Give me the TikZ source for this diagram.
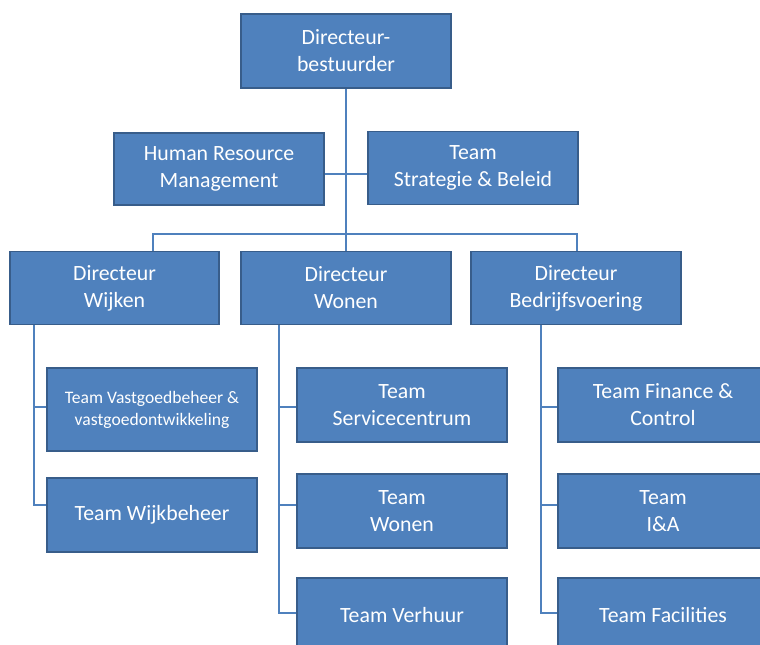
\documentclass[tikz,border=0pt]{standalone}
\usepackage{fontspec}
\setmainfont{Carlito}
\usepackage{tikz}
\definecolor{boxfill}{RGB}{79,129,189}
\definecolor{boxrand}{RGB}{56,93,138}
\definecolor{lijn}{RGB}{79,129,189}

\begin{document}
\begin{tikzpicture}[x=0.02cm, y=-0.02cm,
    blok/.style={draw=boxrand, fill=boxfill, line width=0.9pt, text=white, align=center,
        minimum width=4.2cm, minimum height=1.48cm, inner sep=0pt,
        font=\fontsize{12.4}{15.3}\selectfont},
    klein/.style={font=\fontsize{10}{12.6}\selectfont, minimum height=1.66cm},
    verbinding/.style={draw=lijn, line width=0.85pt}]
    \clip (0,0) rectangle (760,645);
    \useasboundingbox (0,0) rectangle (760,645);
    % Directie
    \node[blok] (dirbest) at (346,51) {Directeur-\\bestuurder};
    \node[blok, minimum height=1.44cm] (hrm) at (219,169) {Human Resource\\Management};
    \node[blok, minimum height=1.46cm] (strat) at (473,168) {Team\\Strategie \& Beleid};
    % Directeuren
    \node[blok, minimum width=4.18cm, minimum height=1.46cm] (dirwijk) at (114.5,288) {Directeur\\Wijken};
    \node[blok, minimum height=1.46cm] (dirwonen) at (346,288) {Directeur\\Wonen};
    \node[blok, minimum height=1.46cm] (dirbedr) at (576,288) {Directeur\\Bedrijfsvoering};
    % Teams Wijken
    \node[blok, klein] (vastgoed) at (152,409.5) {Team Vastgoedbeheer \&\\vastgoedontwikkeling};
    \node[blok] (wijkbeh) at (152,515) {Team Wijkbeheer};
    % Teams Wonen
    \node[blok] (service) at (402,405) {Team\\Servicecentrum};
    \node[blok] (twonen) at (402,511) {Team\\Wonen};
    \node[blok] (verhuur) at (402,615) {Team Verhuur};
    % Teams Bedrijfsvoering
    \node[blok] (finance) at (663,405) {Team Finance \&\\Control};
    \node[blok] (ia) at (663,511) {Team\\I\&A};
    \node[blok] (facil) at (663,615) {Team Facilities};
    % Hulppunten
    \coordinate (staf) at (346,174);
    \coordinate (wijkaf) at (153,251);
    \coordinate (bedraf) at (577,251);
    \coordinate (wk1) at (34,407);
    \coordinate (wk2) at (34,505);
    \coordinate (wo1) at (279,407);
    \coordinate (wo2) at (279,505);
    \coordinate (wo3) at (279,613);
    \coordinate (bv1) at (541,407);
    \coordinate (bv2) at (541,505);
    \coordinate (bv3) at (541,613);
    % Lijnen
    \draw[verbinding] (hrm.east |- staf) -- (strat.west |- staf);
    \draw[verbinding] (dirbest) -- (dirwonen);
    \draw[verbinding] (wijkaf) -- ++(0,-17) -| (bedraf);
    \draw[verbinding] (dirwijk.south -| wk1) |- (wijkbeh.west |- wk2);
    \draw[verbinding] (wk1) -- (vastgoed.west |- wk1);
    \draw[verbinding] (dirwonen.south -| wo1) |- (verhuur.west |- wo3);
    \draw[verbinding] (wo1) -- (service.west |- wo1);
    \draw[verbinding] (wo2) -- (twonen.west |- wo2);
    \draw[verbinding] (dirbedr.south -| bv1) |- (facil.west |- bv3);
    \draw[verbinding] (bv1) -- (finance.west |- bv1);
    \draw[verbinding] (bv2) -- (ia.west |- bv2);
\end{tikzpicture}
\end{document}
